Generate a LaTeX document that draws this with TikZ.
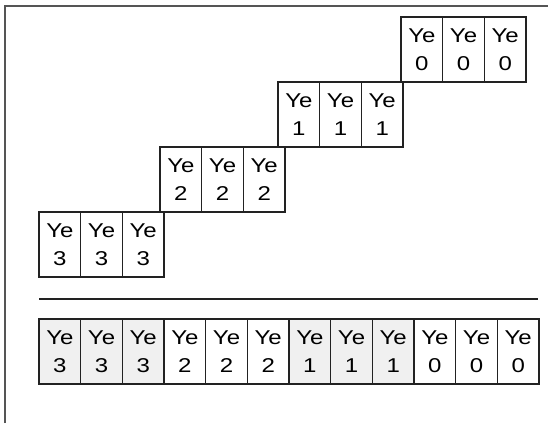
\documentclass[tikz,border=0pt]{standalone}
\usepackage{fontspec}
\setmainfont{Liberation Sans}[FakeStretch=1.2]
\definecolor{edge}{HTML}{222222}
\definecolor{framegray}{HTML}{555555}
\definecolor{shade}{HTML}{F0F0F0}
\tikzset{
  cell/.style={draw=edge, line width=1.2pt, minimum width=41.67pt, minimum height=65pt,
    inner sep=0pt, outer sep=0pt, align=center,
    font=\fontsize{20}{28}\selectfont},
  shaded/.style={cell, fill=shade},
  rule/.style={draw=edge, line width=2pt},
  framing/.style={draw=framegray, line width=2pt}
}
\begin{document}
\begin{tikzpicture}[x=1pt,y=-1pt]
\useasboundingbox (0,0) rectangle (548,423);
% outer frame (only top and left edges show)
\coordinate (f0) at (5,423);
\coordinate (f1) at (5,6);
\coordinate (f2) at (548,6);
\draw[framing] (f0) -- (f1) -- (f2);

% staircase of groups, one row per group
\foreach \k/\lx/\ty in {0/401/17, 1/278/82, 2/160/147, 3/39/212}{
  \foreach \j in {0,1,2}{
    \node[cell, anchor=north west] (s\k\j) at ({\lx+41.67*\j},\ty) {Ye\\\k};
  }
}

% separator
\coordinate (r0) at (39,299);
\coordinate (r1) at (538,299);
\draw[rule] (r0) -- (r1);

% merged sequence
\foreach \i/\d/\st in {0/3/shaded,1/3/shaded,2/3/shaded,3/2/cell,4/2/cell,5/2/cell,
                       6/1/shaded,7/1/shaded,8/1/shaded,9/0/cell,10/0/cell,11/0/cell}{
  \node[\st, anchor=north west] (b\i) at ({39+41.67*\i},319) {Ye\\\d};
}
\draw[edge, line width=2.5pt] (b9.north west) -- (b9.south west);
\end{tikzpicture}
\end{document}
